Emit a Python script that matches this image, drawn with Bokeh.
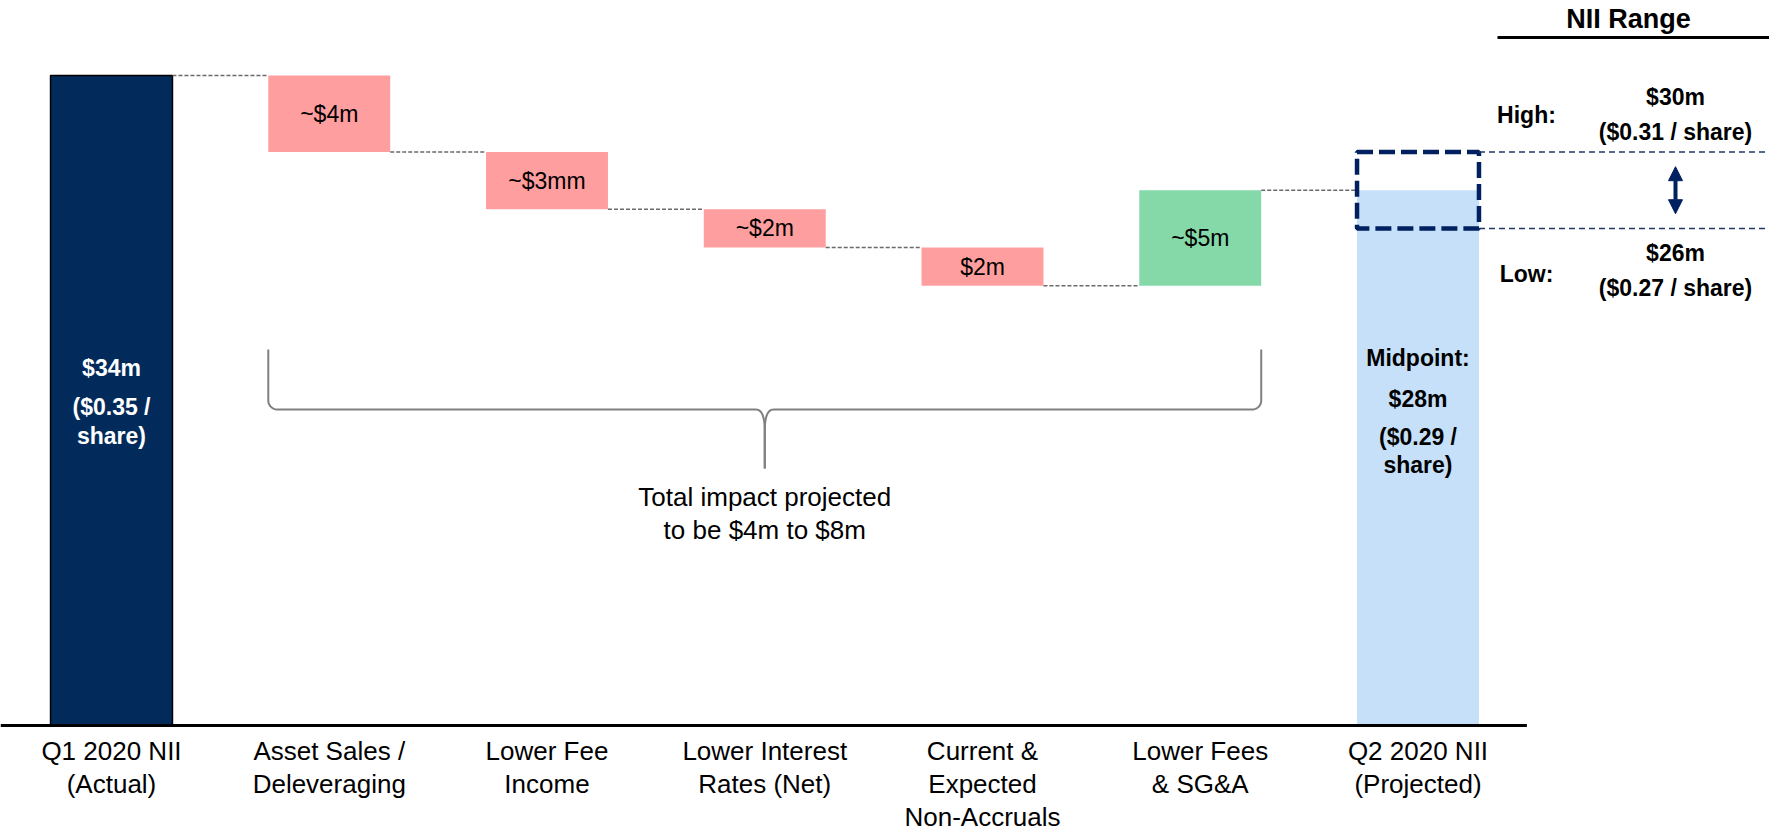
import numpy as np
from bokeh.plotting import figure
from bokeh.models import LinearAxis, FixedTicker, Range1d, Arrow, NormalHead
from bokeh.core.properties import value
from bokeh.embed import file_html
from bokeh.resources import INLINE

# ---------------- data ----------------
categories = ["Q1 2020 NII\n(Actual)", "Asset Sales /\nDeleveraging", "Lower Fee\nIncome",
              "Lower Interest\nRates (Net)", "Current &\nExpected\nNon-Accruals",
              "Lower Fees\n& SG&A", "Q2 2020 NII\n(Projected)"]
start_value = 34
changes = [-4, -3, -2, -2, 5]
change_labels = ["~$4m", "~$3mm", "~$2m", "$2m", "~$5m"]
start_labels = ["$34m", "($0.35 /", "share)"]
end_value = 28
end_labels = ["Midpoint:", "$28m", "($0.29 /", "share)"]
range_high = 30
range_low = 26
high_labels = ["High:", "$30m", "($0.31 / share)"]
low_labels = ["Low:", "$26m", "($0.27 / share)"]
brace_text = "Total impact projected\nto be $4m to $8m"
range_title = "NII Range"

# ---------------- style ----------------
FONT = "Liberation Sans"
NAVY = "#022B5B"
PINK = "#FF9E9E"
GREEN = "#85D9A8"
LBLUE = "#C6E0F9"
BOXNAVY = "#002060"
W = 0.56

XS = 217.75      # px per category
YS = 650 / 34.0  # px per $m
W_PX = 1769
FRAME_H = 729
BASE = 725       # pixel row of zero

p = figure(frame_width=W_PX, frame_height=FRAME_H, output_backend="svg", toolbar_location=None,
           x_axis_location=None, y_axis_location=None,
           min_border_left=0, min_border_right=0, min_border_top=0, min_border_bottom=0,
           x_range=Range1d(-111 / XS, (W_PX - 111) / XS),
           y_range=Range1d(-(FRAME_H - BASE) / YS, BASE / YS))
p.outline_line_color = None
p.grid.visible = False
p.background_fill_color = "white"
p.border_fill_color = "white"

n = len(categories)
xs = list(range(n))
levels = np.cumsum([start_value] + changes)

# start bar
p.vbar(x=[0], width=W, bottom=0, top=start_value, fill_color=NAVY, line_color="black", line_width=1.5)
# change bars
steps_x = xs[1:1 + len(changes)]
bottoms = [min(levels[i], levels[i + 1]) for i in range(len(changes))]
tops = [max(levels[i], levels[i + 1]) for i in range(len(changes))]
cols = [PINK if c < 0 else GREEN for c in changes]
p.vbar(x=steps_x, width=W, bottom=bottoms, top=tops, fill_color=cols, line_color=None)
# end bar
p.vbar(x=[n - 1], width=W, bottom=0, top=end_value, fill_color=LBLUE, line_color=None)

# connectors
cx0 = [xs[i] + W / 2 for i in range(len(levels))]
cx1 = [xs[i + 1] - W / 2 for i in range(len(levels))]
p.segment(x0=cx0, y0=list(levels), x1=cx1, y1=list(levels),
          line_color="#6a6a6a", line_width=1.5, line_dash="4 2")

# baseline
p.segment(x0=[-111 / XS], y0=[0], x1=[n - 0.5], y1=[0], line_color="black", line_width=3)

def py(px):
    return (BASE - px) / YS

# change labels
p.text(x=steps_x, y=[(b + t) / 2 for b, t in zip(bottoms, tops)], text=change_labels,
       text_font=value(FONT), text_font_size="23px", text_align="center",
       text_baseline="middle", text_color="black")

# start bar labels
p.text(x=[0, 0, 0], y=[py(367), py(406), py(435)], text=start_labels,
       text_font=value(FONT), text_font_size="23px", text_font_style="bold",
       text_align="center", text_baseline="middle", text_color="white")
# end bar labels
p.text(x=[n - 1] * 4, y=[py(357), py(398), py(436), py(464)], text=end_labels,
       text_font=value(FONT), text_font_size="23px", text_font_style="bold",
       text_align="center", text_baseline="middle", text_color="black")

# range box and lines
p.quad(left=[n - 1 - W / 2], right=[n - 1 + W / 2], bottom=[range_low], top=[range_high],
       fill_color=None, line_color=BOXNAVY, line_width=4.5, line_dash="16 6")
xr_end = (W_PX - 111) / XS
p.segment(x0=[n - 1 + W / 2] * 2, y0=[range_high, range_low], x1=[xr_end] * 2,
          y1=[range_high, range_low], line_color="#1F3864", line_width=1.5, line_dash="6 4")

vx = (1675 - 111) / XS
lx = (1526 - 111) / XS
mid = (range_high + range_low) / 2
p.add_layout(Arrow(x_start=vx, y_start=mid - 1.23, x_end=vx, y_end=mid + 1.23,
                   line_color=BOXNAVY, line_width=4,
                   start=NormalHead(size=14, fill_color=BOXNAVY, line_color=BOXNAVY),
                   end=NormalHead(size=14, fill_color=BOXNAVY, line_color=BOXNAVY)))

p.text(x=[lx, vx, vx, lx, vx, vx],
       y=[range_high + 1.91, range_high + 2.85, range_high + 1.07,
          range_low - 2.36, range_low - 1.26, range_low - 3.09],
       text=high_labels + low_labels,
       text_font=value(FONT), text_font_size="23px", text_font_style="bold",
       text_align="center", text_baseline="middle", text_color="black")

# NII Range title
p.text(x=[(1628 - 111) / XS], y=[py(18)], text=[range_title],
       text_font=value(FONT), text_font_size="27px", text_font_style="bold",
       text_align="center", text_baseline="middle", text_color="black")
p.segment(x0=[(1497 - 111) / XS], y0=[py(37)], x1=[xr_end], y1=[py(37)],
          line_color="black", line_width=3)

# brace
xl = 1 - W / 2
xr = 1 + len(changes) - 1 + W / 2
xm = (xl + xr) / 2
y_top, y_h, y_tip = py(349), py(409), py(468)
r = 9.0
cw, cd = 9.0, 21.0

def brace_half(sign, x_end):
    pts = [(0.0, (y_top - y_h) * YS)]
    t = np.linspace(0, np.pi / 2, 12)
    for a in t:
        pts.append((sign * (r - r * np.cos(a)), r - r * np.sin(a)))
    span = abs(xm - x_end) * XS
    p0 = np.array([sign * (span - cw), 0.0])
    p1 = np.array([sign * span, 0.0])
    p2 = np.array([sign * span, -cd])
    for tt in np.linspace(0, 1, 14):
        b = (1 - tt) ** 2 * p0 + 2 * (1 - tt) * tt * p1 + tt ** 2 * p2
        pts.append((b[0], b[1]))
    pts.append((sign * span, (y_tip - y_h) * YS))
    bx = [x_end + px / XS for px, _ in pts]
    by = [y_h + q / YS for _, q in pts]
    return bx, by

lbx, lby = brace_half(1, xl)
rbx, rby = brace_half(-1, xr)
p.multi_line(xs=[lbx, rbx], ys=[lby, rby], line_color="#808080", line_width=2)

p.text(x=[xm], y=[py(513)], text=[brace_text],
       text_font=value(FONT), text_font_size="26px", text_align="center",
       text_baseline="middle", text_color="black", text_line_height=1.07)

# category axis
ax = LinearAxis(ticker=FixedTicker(ticks=xs),
                major_label_overrides={i: c for i, c in enumerate(categories)})
ax.axis_line_color = None
ax.major_tick_line_color = None
ax.minor_tick_line_color = None
ax.major_tick_out = 0
ax.major_tick_in = 0
ax.major_label_standoff = 6
ax.major_label_text_font = FONT
ax.major_label_text_font_size = "26px"
ax.major_label_text_color = "black"
ax.major_label_text_line_height = 1.1
p.add_layout(ax, "below")

open("out.html", "w").write(file_html(p, INLINE))
